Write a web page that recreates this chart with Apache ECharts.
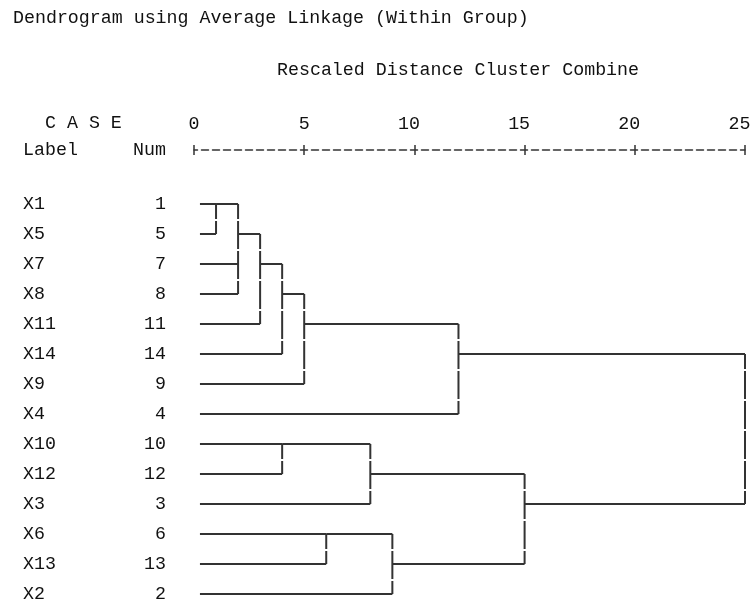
<!DOCTYPE html>
<html>
<head>
<meta charset="UTF-8">
<title>Dendrogram</title>
<script src="https://cdn.jsdelivr.net/npm/echarts@6/dist/echarts.min.js"></script>
<style>
  html, body { margin: 0; padding: 0; background: #fff; }
  #main { width: 752px; height: 602px; }
</style>
</head>
<body>
<div id="main"></div>
<script>
// cases in dendrogram order
var rowLabels = ['X1', 'X5', 'X7', 'X8', 'X11', 'X14', 'X9', 'X4', 'X10', 'X12', 'X3', 'X6', 'X13', 'X2'];
var caseNums = [1, 5, 7, 8, 11, 14, 9, 4, 10, 12, 3, 6, 13, 2];

// agglomeration steps: a leaf label or the index of an earlier step, joined at a rescaled distance
var mergeA = ['X1', 'X7', 0, 2, 3, 4, 'X10', 'X6', 6, 7, 5, 8, 10];
var mergeB = ['X5', 'X8', 1, 'X11', 'X14', 'X9', 'X12', 'X13', 'X3', 'X2', 'X4', 9, 11];
var mergeDist = [1, 2, 2, 3, 4, 5, 4, 6, 8, 9, 12, 15, 25];

var distTicks = [0, 5, 10, 15, 20, 25];
var leafStart = 0.27; // leaf lines start a little right of 0, as in SPSS text output

var FONT = '"Liberation Mono", "DejaVu Sans Mono", monospace';
var FSIZE = 18.3;
var INK = '#333';
var TXT = '#111';

// build segments [x1, row1, x2, row2]
var hSegs = [], vSegs = [];
var nodes = [];
function nodeOf(ref) {
    if (typeof ref === 'string') {
        return { x: leafStart, row: rowLabels.indexOf(ref) };
    }
    return nodes[ref];
}
for (var i = 0; i < mergeDist.length; i++) {
    var a = nodeOf(mergeA[i]), b = nodeOf(mergeB[i]), d = mergeDist[i];
    if (d > a.x) hSegs.push([a.x, a.row, d, a.row]);
    if (d > b.x) hSegs.push([b.x, b.row, d, b.row]);
    vSegs.push([d, Math.min(a.row, b.row), d, Math.max(a.row, b.row)]);
    nodes.push({ x: d, row: Math.floor((a.row + b.row) / 2) });
}
var allSegs = [];
for (var h = 0; h < hSegs.length; h++) allSegs.push(hSegs[h].concat([0]));
for (var v = 0; v < vSegs.length; v++) allSegs.push(vSegs[v].concat([1]));

var rowData = [];
for (var r = 0; r < rowLabels.length; r++) rowData.push([0, r]);

function renderSeg(params, api) {
    var p1 = api.coord([api.value(0), api.value(1)]);
    var p2 = api.coord([api.value(2), api.value(3)]);
    var style = { stroke: INK, lineWidth: 2, fill: null };
    if (api.value(4) === 1) {
        // text-mode output leaves small gaps in the vertical bars
        style.lineDash = [28, 2];
        style.lineDashOffset = 13;
    }
    return {
        type: 'line',
        shape: { x1: p1[0], y1: p1[1], x2: p2[0], y2: p2[1] },
        style: style
    };
}

function renderRow(params, api) {
    var idx = params.dataIndex;
    var p = api.coord([0, api.value(1)]);
    return {
        type: 'group',
        children: [
            { type: 'text', x: 23, y: p[1], style: { text: rowLabels[idx], font: FSIZE + 'px ' + FONT, fill: TXT, align: 'left', verticalAlign: 'middle' } },
            { type: 'text', x: 166, y: p[1], style: { text: String(caseNums[idx]), font: FSIZE + 'px ' + FONT, fill: TXT, align: 'right', verticalAlign: 'middle' } }
        ]
    };
}

function headText(str, x, y) {
    return { type: 'text', x: x, y: y, style: { text: str, font: FSIZE + 'px ' + FONT, fill: TXT, verticalAlign: 'middle' } };
}

var chart = echarts.init(document.getElementById('main'));
var option = {
    animation: false,
    backgroundColor: '#fff',
    textStyle: { fontFamily: FONT },
    grid: { left: 194, right: 7, top: 150, bottom: 2, outerBoundsMode: 'none' },
    graphic: [
        headText('Dendrogram using Average Linkage (Within Group)', 13, 18),
        headText('Rescaled Distance Cluster Combine', 277, 70),
        headText('C A S E', 45, 123),
        headText('Label', 23, 150),
        headText('Num', 133, 150)
    ],
    xAxis: [
        {
            type: 'value', min: distTicks[0], max: distTicks[distTicks.length - 1], interval: 5,
            position: 'top',
            axisLine: { show: true, onZero: false, lineStyle: { color: INK, width: 1.5, type: [7, 4], dashOffset: 3.5 } },
            axisTick: { show: true, length: 5, lineStyle: { color: INK, width: 1.5 } },
            axisLabel: {
                fontSize: FSIZE, color: TXT, margin: 17, fontFamily: FONT,
                // last digit sits over the tick, as in the text output
                formatter: function (val) { return val >= 10 ? val + ' ' : String(val); }
            },
            splitLine: { show: false }
        },
        {
            type: 'value', min: distTicks[0], max: distTicks[distTicks.length - 1], interval: 5,
            position: 'top',
            axisLine: { show: false, onZero: false },
            axisTick: { show: true, inside: true, length: 5, lineStyle: { color: INK, width: 1.5 } },
            axisLabel: { show: false },
            splitLine: { show: false }
        }
    ],
    yAxis: {
        type: 'value', inverse: true, min: -1.8, max: 13.2, show: false
    },
    series: [
        { type: 'custom', name: 'links', renderItem: renderSeg, data: allSegs },
        { type: 'custom', name: 'cases', renderItem: renderRow, data: rowData }
    ]
};
chart.setOption(option);
</script>
</body>
</html>
